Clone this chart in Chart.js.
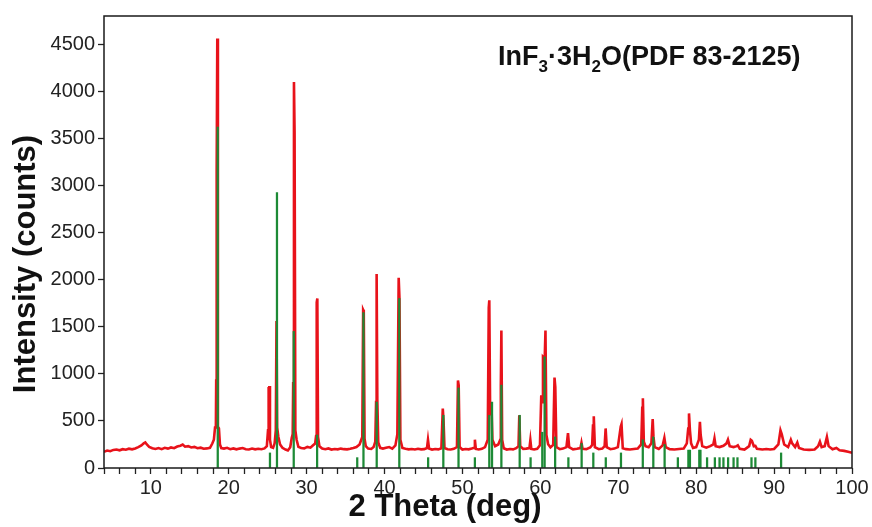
<!DOCTYPE html>
<html>
<head>
<meta charset="utf-8">
<script src="https://cdn.jsdelivr.net/npm/chart.js@4/dist/chart.umd.min.js"></script>
<style>
  html, body { margin: 0; padding: 0; background: #ffffff; }
  canvas { display: block; }
</style>
</head>
<body>
<canvas id="xrd" width="872" height="527"></canvas>
<script>
// Measured diffraction scan: 2-theta (deg) and intensity (counts)
const scanTheta = [
  4.0, 4.4, 4.8, 5.2, 5.6, 6.0, 6.4, 6.8, 7.2, 7.6,
  8.0, 8.4, 8.8, 9.1, 9.3, 9.5, 9.8, 10.2, 10.6, 11.0,
  11.4, 11.8, 12.2, 12.6, 13.0, 13.4, 13.8, 14.1, 14.4, 14.8,
  15.2, 15.6, 16.0, 16.4, 16.8, 17.2, 17.6, 17.9, 18.1, 18.25,
  18.36, 18.40, 18.46, 18.54, 18.62, 18.75, 18.88, 19.05, 19.4, 19.8,
  20.2, 20.6, 21.0, 21.4, 21.8, 22.2, 22.6, 23.0, 23.4, 23.8,
  24.2, 24.6, 24.9, 25.05, 25.1, 25.16, 25.22, 25.3, 25.45, 25.7,
  25.9, 26.05, 26.14, 26.22, 26.38, 26.6, 26.9, 27.3, 27.6, 27.9,
  28.1, 28.22, 28.28, 28.38, 28.46, 28.56, 28.72, 28.95, 29.3, 29.7,
  30.1, 30.5, 30.8, 31.1, 31.22, 31.3, 31.38, 31.47, 31.65, 32.0,
  32.4, 32.8, 33.2, 33.6, 34.0, 34.4, 34.8, 35.2, 35.6, 36.0,
  36.4, 36.8, 37.15, 37.26, 37.34, 37.44, 37.6, 37.9, 38.3, 38.6,
  38.82, 38.92, 38.99, 39.08, 39.2, 39.45, 39.8, 40.2, 40.6, 41.0,
  41.4, 41.65, 41.82, 41.92, 42.04, 42.3, 42.7, 43.1, 43.5, 43.9,
  44.3, 44.7, 45.1, 45.45, 45.58, 45.72, 46.1, 46.5, 46.9, 47.3,
  47.48, 47.58, 47.7, 48.1, 48.5, 48.9, 49.3, 49.43, 49.52, 49.64,
  50.0, 50.4, 50.8, 51.2, 51.5, 51.6, 51.72, 52.1, 52.5, 52.9,
  53.25, 53.38, 53.45, 53.56, 53.72, 53.85, 54.2, 54.6, 54.85, 54.93,
  55.0, 55.1, 55.3, 55.7, 56.1, 56.5, 56.9, 57.2, 57.3, 57.42,
  57.8, 58.2, 58.6, 58.72, 58.84, 59.2, 59.6, 59.95, 60.12, 60.24,
  60.34, 60.56, 60.66, 60.78, 61.0, 61.3, 61.65, 61.82, 61.92, 62.06,
  62.5, 62.9, 63.35, 63.55, 63.7, 64.2, 64.7, 65.15, 65.28, 65.42,
  65.9, 66.4, 66.65, 66.76, 66.86, 67.0, 67.5, 67.95, 68.25, 68.38,
  68.52, 69.0, 69.5, 69.95, 70.32, 70.42, 70.58, 71.0, 71.5, 72.0,
  72.5, 72.95, 73.08, 73.16, 73.28, 73.5, 73.9, 74.25, 74.42, 74.52,
  74.68, 75.2, 75.7, 75.92, 76.1, 76.6, 77.2, 77.8, 78.4, 78.8,
  78.98, 79.08, 79.2, 79.35, 79.6, 80.0, 80.35, 80.48, 80.58, 80.78,
  81.3, 81.8, 82.2, 82.35, 82.5, 83.0, 83.5, 83.9, 84.08, 84.3,
  84.8, 85.2, 85.35, 85.6, 86.2, 86.8, 87.0, 87.15, 87.4, 87.6,
  87.8, 88.5, 89.0, 89.5, 90.0, 90.55, 90.82, 90.98, 91.3, 91.8,
  92.15, 92.32, 92.7, 92.98, 93.2, 93.8, 94.5, 95.2, 95.65, 95.88,
  96.1, 96.5, 96.78, 97.0, 97.5, 98.0, 98.4, 99.0, 99.5, 100.0
];
const scanCounts = [
  172, 185, 178, 192, 196, 188, 200, 194, 205, 198,
  208, 222, 240, 262, 272, 250, 225, 210, 202, 212,
  200, 214, 206, 218, 210, 228, 236, 248, 226, 232,
  218, 224, 210, 216, 204, 208, 214, 260, 300, 430,
  440, 930, 3150, 4560, 440, 420, 250, 212, 206, 214,
  200, 208, 198, 206, 212, 200, 196, 206, 198, 204,
  200, 208, 232, 400, 860, 780, 870, 300, 222, 215,
  262, 400, 1560, 430, 330, 250, 215, 196, 186, 220,
  320, 360, 900, 4100, 3560, 400, 300, 225, 212, 208,
  224, 216, 238, 260, 340, 1760, 1800, 330, 230, 206,
  200, 208, 196, 202, 198, 206, 200, 198, 204, 212,
  222, 250, 330, 1680, 1665, 310, 232, 206, 202, 222,
  280, 700, 2060, 720, 270, 214, 206, 214, 222, 206,
  240, 360, 2020, 1800, 300, 212, 204, 198, 202, 196,
  204, 198, 200, 212, 300, 206, 196, 202, 198, 210,
  632, 500, 212, 200, 196, 204, 222, 930, 880, 222,
  196, 202, 198, 206, 214, 300, 202, 196, 204, 222,
  300, 1700, 1780, 560, 700, 300, 232, 250, 300, 880,
  1460, 300, 210, 196, 202, 198, 210, 232, 560, 232,
  202, 206, 212, 296, 202, 196, 204, 240, 773, 700,
  1180, 1160, 1460, 350, 252, 220, 245, 960, 860, 222,
  200, 206, 222, 370, 222, 198, 204, 212, 268, 204,
  200, 218, 245, 450, 550, 222, 200, 206, 232, 420,
  222, 200, 206, 222, 440, 466, 210, 200, 196, 202,
  206, 250, 640, 740, 280, 232, 220, 262, 520, 330,
  222, 202, 240, 320, 222, 200, 196, 202, 206, 262,
  420, 580, 400, 262, 212, 222, 300, 490, 350, 232,
  216, 232, 250, 314, 232, 222, 236, 262, 300, 232,
  222, 232, 240, 204, 196, 232, 300, 290, 232, 235,
  204, 196, 202, 196, 202, 250, 400, 360, 250, 222,
  300, 262, 222, 270, 212, 196, 192, 196, 232, 280,
  222, 232, 330, 232, 198, 212, 188, 182, 172, 162
];

// Reference card PDF 83-2125: line positions (2-theta) and intensities (counts)
const refTheta = [
  18.6, 25.3, 26.2, 28.35, 31.35, 36.5, 37.3, 39.0, 41.9, 45.6,
  47.55, 49.5, 51.6, 53.45, 53.8, 55.0, 57.35, 58.75, 60.25, 60.55,
  61.9, 63.6, 65.3, 66.8, 68.4, 70.35, 73.15, 74.5, 75.95, 77.65,
  79.0, 79.2, 80.4, 80.55, 81.4, 82.4, 83.0, 83.5, 84.1, 84.8,
  85.3, 87.1, 87.6, 90.9
];
const refCounts = [
  3620, 160, 2925, 1450, 350, 110, 1650, 700, 1800, 110,
  560, 850, 110, 560, 700, 880, 560, 110, 380, 1180,
  330, 110, 260, 160, 110, 160, 300, 330, 250, 110,
  190, 190, 190, 190, 110, 110, 110, 110, 110, 110,
  110, 110, 110, 160
];

// Axis ranges and tick values
const thetaRange = [4, 100];
const thetaStep = 2;
const thetaLabelEvery = 10;
const countRange = [0, 4800];
const countTicks = [0, 500, 1000, 1500, 2000, 2500, 3000, 3500, 4000, 4500];

// Text
const xTitle = '2 Theta (deg)';
const yTitle = 'Intensity (counts)';
const phaseLabel = [
  { text: 'InF', sub: false },
  { text: '3', sub: true },
  { text: '\u00B73H', sub: false },
  { text: '2', sub: true },
  { text: 'O(PDF 83-2125)', sub: false }
];

const FONT = '"Liberation Sans", Arial, Helvetica, sans-serif';

const scanPoints = scanTheta.map((t, i) => ({ x: t, y: scanCounts[i] }));
const refPoints = refTheta.map((t, i) => ({ x: t, y: refCounts[i] }));

// Closed frame, phase label and axis titles
const frameAndLabels = {
  id: 'frameAndLabels',
  afterDatasetsDraw(chart) {
    const { ctx, chartArea: a } = chart;
    ctx.save();
    ctx.strokeStyle = '#1a1a1a';
    ctx.lineWidth = 1.5;
    ctx.strokeRect(a.left, a.top, a.right - a.left, a.bottom - a.top);
    ctx.restore();
  },
  afterDraw(chart) {
    const { ctx } = chart;
    ctx.save();
    ctx.fillStyle = '#111111';
    ctx.textBaseline = 'alphabetic';
    ctx.textAlign = 'left';
    let x = 498;
    const base = 65;
    for (const part of phaseLabel) {
      ctx.font = part.sub ? `bold 17px ${FONT}` : `bold 27px ${FONT}`;
      ctx.fillText(part.text, x, part.sub ? base + 7 : base);
      x += ctx.measureText(part.text).width;
    }
    ctx.font = `bold 31px ${FONT}`;
    ctx.textAlign = 'center';
    ctx.fillText(xTitle, 445, 516);
    ctx.translate(35, 264);
    ctx.rotate(-Math.PI / 2);
    ctx.fillText(yTitle, 0, 0);
    ctx.restore();
  }
};

new Chart(document.getElementById('xrd'), {
  type: 'line',
  data: {
    datasets: [
      {
        type: 'bar',
        label: 'PDF 83-2125',
        data: refPoints,
        backgroundColor: '#1d8a36',
        borderWidth: 0,
        barThickness: 1.6,
        grouped: false,
        order: 0
      },
      {
        type: 'line',
        label: 'InF3·3H2O',
        data: scanPoints,
        borderColor: '#e8121a',
        borderWidth: 2.6,
        borderJoinStyle: 'miter',
        pointRadius: 0,
        tension: 0,
        fill: false,
        order: 1
      }
    ]
  },
  options: {
    responsive: false,
    animation: false,
    events: [],
    layout: { padding: { top: 16, right: 20, left: 0, bottom: 0 } },
    plugins: {
      legend: { display: false },
      tooltip: { enabled: false }
    },
    scales: {
      x: {
        type: 'linear',
        min: thetaRange[0],
        max: thetaRange[1],
        offset: false,
        border: { display: false },
        grid: {
          offset: false,
          drawOnChartArea: false,
          drawTicks: true,
          tickLength: 6,
          tickColor: '#222222',
          tickWidth: 1.3
        },
        ticks: {
          stepSize: thetaStep,
          autoSkip: false,
          maxRotation: 0,
          padding: 2,
          color: '#222222',
          font: { family: FONT, size: 20 },
          callback: (v) => (v % thetaLabelEvery === 0 ? String(v) : '')
        },
        afterFit(scale) { scale.height = 59; }
      },
      y: {
        type: 'linear',
        min: countRange[0],
        max: countRange[1],
        border: { display: false },
        grid: {
          drawOnChartArea: false,
          drawTicks: true,
          tickLength: 6,
          tickColor: '#222222',
          tickWidth: 1.3
        },
        afterBuildTicks(scale) {
          scale.ticks = countTicks.map((v) => ({ value: v }));
        },
        ticks: {
          autoSkip: false,
          padding: 3,
          color: '#222222',
          font: { family: FONT, size: 20 },
          callback: (v) => String(v)
        },
        afterFit(scale) { scale.width = 104; }
      }
    }
  },
  plugins: [frameAndLabels]
});
</script>
</body>
</html>
